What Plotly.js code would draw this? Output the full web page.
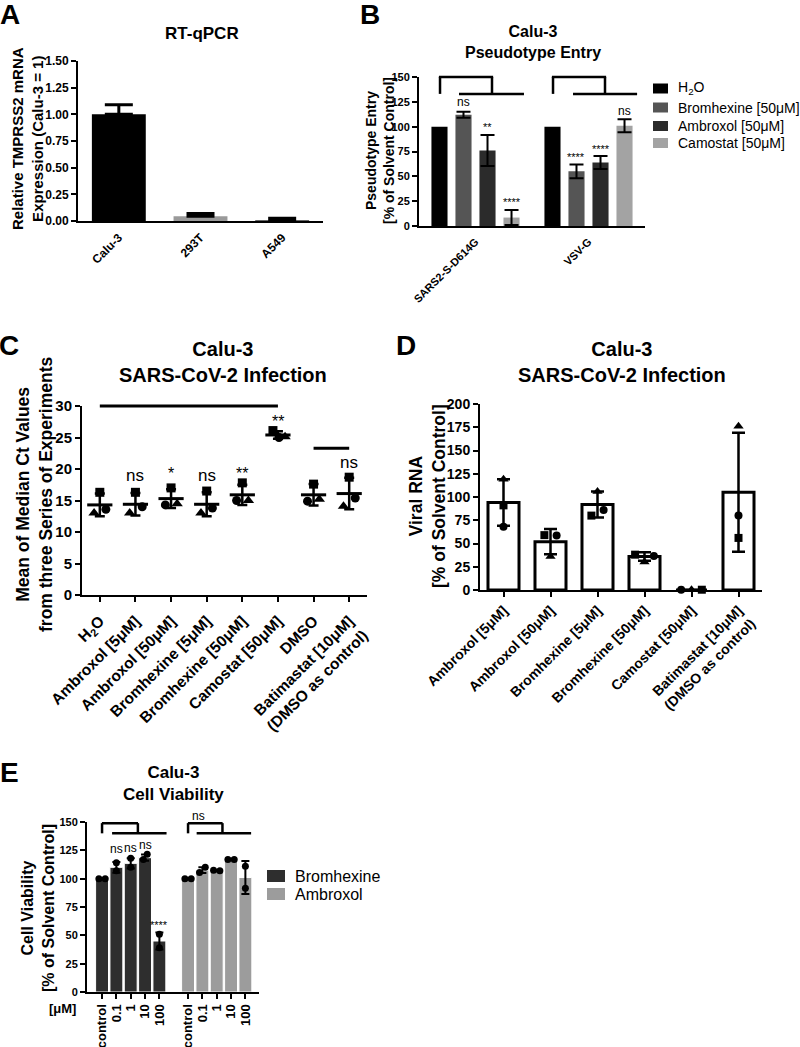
<!DOCTYPE html>
<html><head><meta charset="utf-8">
<script src="https://cdn.plot.ly/plotly-3.0.1.min.js"></script>
<style>body{margin:0;background:#fff}#chart{width:800px;height:1047px}</style>
</head><body><div id="chart"></div>
<script>
// ---------- Panel A: RT-qPCR ----------
const aCells = ['Calu-3', '293T', 'A549'];
const aExpr = [1.00, 0.045, 0.008];
const aErr = [0.09, 0.025, 0.017];

// ---------- Panel B: pseudotype entry ----------
const bTargets = ['SARS2-S-D614G', 'VSV-G'];
const bTreatments = ['H<sub>2</sub>O', 'Bromhexine [50μM]', 'Ambroxol [50μM]', 'Camostat [50μM]'];
const bEntry = [[100, 100], [112, 55], [76, 64], [8.5, 101]];
const bErr = [[0, 0], [3, 7], [15.5, 6.5], [7.5, 6.5]];
const bSig = [[null, null], ['ns', '****'], ['**', '****'], ['****', 'ns']];
const bSigY = [[null, null], [125, 69], [100, 78], [24, 116]];

// ---------- Panel C: Ct values ----------
const cLabels = ['H<sub>2</sub>O', 'Ambroxol [5μM]', 'Ambroxol [50μM]', 'Bromhexine [5μM]', 'Bromhexine [50μM]', 'Camostat [50μM]', 'DMSO', 'Batimastat [10μM]<br>(DMSO as control)'];
const cSquare = [16.3, 16.3, 17.0, 16.5, 17.8, 26.1, 17.6, 18.7];
const cCircle = [13.6, 14.0, 14.3, 13.8, 15.0, 25.0, 14.9, 15.4];
const cTriangle = [13.0, 13.0, 14.5, 13.0, 15.0, 25.1, 15.2, 14.1];
const cMean = [14.3, 14.4, 15.3, 14.4, 15.9, 25.4, 15.9, 16.1];
const cSD = [1.8, 1.8, 1.5, 1.9, 1.6, 0.6, 1.7, 2.5];
const cSig = ['', 'ns', '*', 'ns', '**', '**', '', 'ns'];
const cSigY = [0, 19, 19.3, 19, 19.3, 27.6, 0, 21];

// ---------- Panel D: viral RNA ----------
const dLabels = ['Ambroxol [5μM]', 'Ambroxol [50μM]', 'Bromhexine [5μM]', 'Bromhexine [50μM]', 'Camostat [50μM]', 'Batimastat [10μM]<br>(DMSO as control)'];
const dMean = [94, 52, 92, 36, 0, 105];
const dSD = [25, 13.5, 14, 4.5, 0, 64];
const dSquare = [91, 59, 80, 38, 0.3, 56];
const dCircle = [68, 58.5, 86, 36.5, 0.3, 80];
const dTriangle = [119, 36, 106, 30, 0.3, 176];

// ---------- Panel E: cell viability ----------
const eSeries = ['Bromhexine', 'Ambroxol'];
const eConc = ['control', '0.1', '1', '10', '100'];
const eBromMean = [100, 110, 113.5, 118.5, 45];
const eBromSD = [0, 4.8, 4.5, 2.8, 7.5];
const eBromRep1 = [100, 114, 118, 121.5, 51];
const eBromRep2 = [100, 107, 110, 117, 39];
const eAmbMean = [100, 107.5, 107, 117, 101];
const eAmbSD = [0, 2.5, 0.5, 0.5, 14.5];
const eAmbRep1 = [100, 110, 107.5, 117, 111];
const eAmbRep2 = [100, 105.5, 107, 117, 91.5];
const eSigBrom = ['', 'ns', 'ns', 'ns', '****'];
const eSigBromY = [0, 126, 127, 130, 59];

// ---------- helpers ----------
const W = 800, H = 1047;
const px = x => x / W, py = y => 1 - y / H;
const FONT = 'Arial, "Liberation Sans", Helvetica, sans-serif';
const BOLD = (s) => ({family: FONT, size: s, color: '#000', weight: 'bold'});
const NORM = (s) => ({family: FONT, size: s, color: '#000'});
const b = s => '<b>' + s.split('<br>').join('</b><br><b>') + '</b>';

function yAxis(top, bottom, anchor, range, dtick, fsize, dec) {
  const vals = [];
  for (let v = range[0]; v <= range[1] + 1e-9; v += dtick) vals.push(+v.toFixed(4));
  return {domain: [py(bottom), py(top)], anchor: anchor, range: range, tickvals: vals,
    ticktext: vals.map(v => b(v.toFixed(dec || 0))),
    showgrid: false, zeroline: false, showline: true, linecolor: '#000', linewidth: 2,
    ticks: 'outside', ticklen: 5, tickwidth: 2, tickcolor: '#000', tickfont: NORM(fsize), fixedrange: true};
}
function xAxis(left, right, anchor, extra) {
  return Object.assign({domain: [px(left), px(right)], anchor: anchor, showgrid: false, zeroline: false,
    showline: true, linecolor: '#000', linewidth: 2, tickcolor: '#000', tickwidth: 2, ticklen: 5, fixedrange: true}, extra);
}

const traces = [];
const annotations = [];
const shapes = [];

// ----- A -----
const aIdx = aCells.map((_, i) => i);
traces.push({type: 'bar', x: aIdx, y: aExpr, width: 0.66, xaxis: 'x', yaxis: 'y', showlegend: false,
  marker: {color: ['#000000', '#9a9a9a', '#333333']},
  error_y: {type: 'data', array: aErr, arrayminus: aExpr.map(() => 0), symmetric: false, color: '#000', thickness: 3, width: 14}});

// ----- B -----
const bColors = ['#000000', '#555555', '#2b2b2b', '#a3a3a3'];
const bIdx = bTargets.map((_, i) => i);
bTreatments.forEach((t, k) => {
  traces.push({type: 'bar', x: bIdx, y: bEntry[k], name: t, xaxis: 'x2', yaxis: 'y2', showlegend: false,
    marker: {color: bColors[k]},
    error_y: {type: 'data', array: bErr[k], visible: k > 0, color: '#000', thickness: 2, width: 7}});
});
const bOff = k => -0.425 + 0.10625 + k * 0.2125;
bTreatments.forEach((t, k) => bIdx.forEach(i => {
  if (bSig[k][i]) annotations.push({xref: 'x2', yref: 'y2', x: i + bOff(k), y: bSigY[k][i], text: bSig[k][i],
    showarrow: false, yanchor: 'middle', font: NORM(bSig[k][i] === 'ns' ? 12 : 11)});
}));

// ----- C -----
const cIdx = cLabels.map((_, i) => i);
const cSqOff = [0, 0, 0, 0, 0, -0.14, 0, 0];
const cCiOff = [0.17, 0.19, -0.16, 0.16, -0.16, 0.03, -0.17, 0.17];
const cTrOff = [-0.16, -0.16, 0.17, -0.16, 0.17, 0.2, 0.16, -0.16];
const pts = (vals, off, sym, ax, ay, size) => ({type: 'scatter', mode: 'markers', x: vals.map((_, i) => i + off[i]), y: vals,
  xaxis: ax, yaxis: ay, showlegend: false, cliponaxis: false, marker: {symbol: sym, size: size, color: '#000'}});
traces.push(pts(cSquare, cSqOff, 'square', 'x3', 'y3', 9));
traces.push(pts(cCircle, cCiOff, 'circle', 'x3', 'y3', 9));
traces.push(pts(cTriangle, cTrOff, 'triangle-up', 'x3', 'y3', 10));
traces.push({type: 'scatter', mode: 'markers', x: cIdx, y: cMean, xaxis: 'x3', yaxis: 'y3', showlegend: false, cliponaxis: false,
  marker: {symbol: 'line-ew', size: 18, color: '#000', line: {color: '#000', width: 3}},
  error_y: {type: 'data', array: cSD, color: '#000', thickness: 2.5, width: 5}});
cIdx.forEach(i => { if (cSig[i]) annotations.push({xref: 'x3', yref: 'y3', x: i, y: cSigY[i], text: cSig[i],
  showarrow: false, yanchor: 'middle', font: NORM(cSig[i] === 'ns' ? 17 : 16)}); });

// ----- D -----
const dIdx = dLabels.map((_, i) => i);
traces.push({type: 'bar', x: dIdx, y: dMean, width: 0.66, xaxis: 'x4', yaxis: 'y4', showlegend: false,
  marker: {color: '#ffffff', line: {color: '#000', width: 3}},
  error_y: {type: 'data', array: dSD, visible: true, color: '#000', thickness: 2.5, width: 6.5}});
const dSqOff = [0, -0.13, -0.13, -0.2, 0.22, 0];
const dCiOff = [0, 0.13, 0.13, 0.2, -0.22, 0];
const dTrOff = [0, 0, 0, 0, 0, 0];
traces.push(pts(dSquare, dSqOff, 'square', 'x4', 'y4', 8));
traces.push(pts(dCircle, dCiOff, 'circle', 'x4', 'y4', 8));
traces.push(pts(dTriangle, dTrOff, 'triangle-up', 'x4', 'y4', 9));

// ----- E -----
const eColors = ['#2e2e2e', '#9c9c9c'];
const eBromX = eConc.map((_, i) => i);
const eAmbX = eConc.map((_, i) => i + 6);
traces.push({type: 'bar', x: eBromX, y: eBromMean, name: eSeries[0], width: 0.9, offset: -0.45, xaxis: 'x5', yaxis: 'y5', showlegend: false,
  marker: {color: eColors[0], line: {color: '#ffffff', width: 1}},
  error_y: {type: 'data', array: eBromSD, color: '#000', thickness: 2, width: 4}});
traces.push({type: 'bar', x: eAmbX, y: eAmbMean, name: eSeries[1], width: 0.9, offset: -0.45, xaxis: 'x5', yaxis: 'y5', showlegend: false,
  marker: {color: eColors[1], line: {color: '#ffffff', width: 1}},
  error_y: {type: 'data', array: eAmbSD, color: '#000', thickness: 2, width: 4}});
const eB1 = [-0.22, 0, 0, 0.15, 0], eB2 = [0.22, 0, 0, -0.12, 0];
const eA1 = [-0.22, 0.2, -0.22, -0.22, 0], eA2 = [0.22, -0.2, 0.22, 0.22, 0];
const ePts = (xs, vals, off) => ({type: 'scatter', mode: 'markers', x: xs.map((x, i) => x + off[i]), y: vals, xaxis: 'x5', yaxis: 'y5',
  showlegend: false, cliponaxis: false, marker: {symbol: 'circle', size: 7, color: '#000'}});
traces.push(ePts(eBromX, eBromRep1, eB1));
traces.push(ePts(eBromX, eBromRep2, eB2));
traces.push(ePts(eAmbX, eAmbRep1, eA1));
traces.push(ePts(eAmbX, eAmbRep2, eA2));
eBromX.forEach((x, i) => { if (eSigBrom[i]) annotations.push({xref: 'x5', yref: 'y5', x: x, y: eSigBromY[i], text: eSigBrom[i],
  showarrow: false, yanchor: 'middle', font: NORM(eSigBrom[i] === 'ns' ? 12 : 11)}); });

// ----- brackets / lines (in axis-domain units, no clipping) -----
const rangeB = {x: [-0.5, 1.5], y: [0, 150]};
const rangeC = {x: [-0.5, 7.5], y: [0, 30]};
const rangeE = {x: [-1.05, 10.95], y: [0, 150]};
const dom = (rng, k, v) => (v - rng[k][0]) / (rng[k][1] - rng[k][0]);
function seg(ax, ay, rng, x0, y0, x1, y1, w) {
  shapes.push({type: 'line', xref: ax + ' domain', yref: ay + ' domain', x0: dom(rng, 'x', x0), y0: dom(rng, 'y', y0),
    x1: dom(rng, 'x', x1), y1: dom(rng, 'y', y1), line: {color: '#000', width: w}, layer: 'above'});
}
function bracket(ax, ay, rng, xa, xb, ytop, ybot, xl0, xl1, w) {
  seg(ax, ay, rng, xa, ybot, xa, ytop, w);
  seg(ax, ay, rng, xa - 0.01, ytop, xb + 0.01, ytop, w);
  seg(ax, ay, rng, xb, ytop, xb, ybot, w);
  seg(ax, ay, rng, xl0, ybot, xl1, ybot, w);
}
bracket('x2', 'y2', rangeB, -0.314, 0.146, 150, 133, -0.146, 0.429, 2.5);
bracket('x2', 'y2', rangeB, 0.686, 1.146, 150, 133, 0.863, 1.43, 2.5);
seg('x3', 'y3', rangeC, 0, 30, 5, 30, 3);
seg('x3', 'y3', rangeC, 6, 23.3, 7, 23.3, 3);
bracket('x5', 'y5', rangeE, 0, 2.5, 149, 140, 0.7, 4.5, 2.5);
bracket('x5', 'y5', rangeE, 6, 8.4, 149, 140, 6.6, 10.4, 2.5);
annotations.push({xref: 'x5 domain', yref: 'y5 domain', x: dom(rangeE, 'x', 7.3), y: dom(rangeE, 'y', 155), text: 'ns',
  showarrow: false, yanchor: 'middle', font: NORM(12)});

// ----- text: panel letters, titles, axis titles -----
const paperText = (text, x, y, font, extra) => annotations.push(Object.assign({xref: 'paper', yref: 'paper',
  x: px(x), y: py(y), text: text, showarrow: false, xanchor: 'center', yanchor: 'middle', font: font}, extra || {}));
paperText('A', 10, 14, BOLD(28));
paperText('B', 370, 15, BOLD(28));
paperText('C', 9, 345, BOLD(28));
paperText('D', 406, 345, BOLD(28));
paperText('E', 9, 772, BOLD(28));
paperText('RT-qPCR', 202, 34, BOLD(17));
paperText('Calu-3<br>Pseudotype Entry', 533, 42, BOLD(16));
paperText('Calu-3<br>SARS-CoV-2 Infection', 223, 362, BOLD(20));
paperText('Calu-3<br>SARS-CoV-2 Infection', 622, 362, BOLD(20));
paperText('Calu-3<br>Cell Viability', 173, 783, BOLD(17));
paperText('Relative TMPRSS2 mRNA<br>Expression (Calu-3 = 1)', 27, 139, BOLD(15), {textangle: -90});
paperText('Pseudotype Entry<br>[% of Solvent Control]', 380, 151, BOLD(14), {textangle: -90});
paperText('Mean of Median Ct Values<br>from three Series of Experiments', 35, 495, BOLD(17.5), {textangle: -90});
paperText('Viral RNA<br>[% of Solvent Control]', 427, 496, BOLD(17.5), {textangle: -90});
paperText('Cell Viability<br>[% of Solvent Control]', 38, 908, BOLD(16), {textangle: -90});
paperText('[μM]', 62, 1008, BOLD(13));

// ----- legends (drawn as keyed boxes + labels) -----
function legendItem(x0, yc, w, h, color, label, fsize, tx) {
  shapes.push({type: 'rect', xref: 'paper', yref: 'paper', x0: px(x0), x1: px(x0 + w), y0: py(yc + h / 2), y1: py(yc - h / 2),
    fillcolor: color, line: {width: 0}, layer: 'above'});
  annotations.push({xref: 'paper', yref: 'paper', x: px(tx), y: py(yc), text: label, showarrow: false,
    xanchor: 'left', yanchor: 'middle', font: NORM(fsize)});
}
const bLegY = [88.5, 107.5, 126, 143];
bTreatments.forEach((t, k) => legendItem(653, bLegY[k], 15, 10, bColors[k], t, 14, 676));
const eLegY = [876, 894];
eSeries.forEach((t, k) => legendItem(267, eLegY[k], 18, 12, eColors[k], t, 16, 293));

const layout = {
  width: W, height: H, margin: {l: 0, r: 0, t: 0, b: 0},
  paper_bgcolor: '#fff', plot_bgcolor: '#fff',
  font: {family: FONT, color: '#000'},
  barmode: 'group', bargap: 0.15, bargroupgap: 0.33,
  showlegend: false,
  xaxis: xAxis(78, 323, 'y', {range: [-0.5, 2.5], tickvals: aIdx, ticktext: aCells.map(b), ticks: '', tickangle: -45, tickfont: NORM(12), ticklabelstandoff: 3}),
  yaxis: yAxis(61, 221, 'x', [0, 1.5], 0.25, 12, 2),
  xaxis2: xAxis(419, 645, 'y2', {range: rangeB.x, tickvals: bIdx, ticktext: bTargets.map(b), ticks: '', tickangle: -45, tickfont: NORM(11), ticklabelstandoff: 3}),
  yaxis2: yAxis(77, 226, 'x2', rangeB.y, 25, 11),
  xaxis3: xAxis(82, 367, 'y3', {range: rangeC.x, tickvals: cIdx, ticktext: cLabels.map(b), ticks: 'outside', tickangle: -45, tickfont: NORM(15.5), ticklabelstandoff: 4}),
  yaxis3: yAxis(406, 595, 'x3', rangeC.y, 5, 15),
  xaxis4: xAxis(480, 762, 'y4', {range: [-0.5, 5.5], tickvals: dIdx, ticktext: dLabels.map(b), ticks: 'outside', tickangle: -45, tickfont: NORM(14)}),
  yaxis4: yAxis(404, 590, 'x4', [0, 200], 25, 14),
  xaxis5: xAxis(87, 259, 'y5', {range: rangeE.x, tickvals: eBromX.concat(eAmbX), ticktext: eConc.concat(eConc).map(b), ticks: 'outside', tickangle: -90, tickfont: NORM(13)}),
  yaxis5: yAxis(822, 992, 'x5', rangeE.y, 25, 11),
  annotations: annotations,
  shapes: shapes
};

Plotly.newPlot('chart', traces, layout, {staticPlot: true, displayModeBar: false});
</script>
</body></html>
